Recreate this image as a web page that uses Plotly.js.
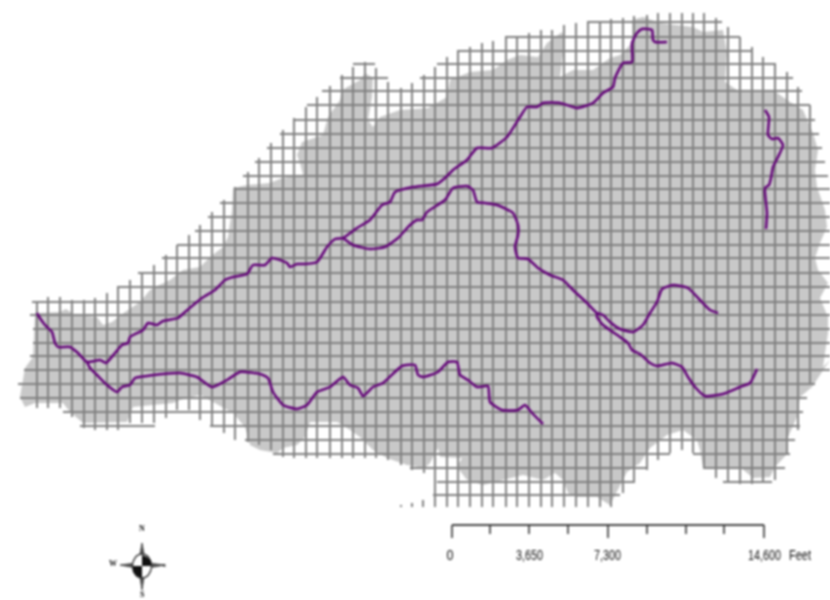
<!DOCTYPE html>
<html>
<head>
<meta charset="utf-8">
<script src="https://cdn.plot.ly/plotly-3.0.1.min.js"></script>
<style>html,body{margin:0;padding:0;background:#fff}#map{width:830px;height:600px;filter:blur(0.9px)}</style>
</head>
<body>
<div id="map"></div>
<script>
const basinX = [35,60,66,75,97,103,112,125,140,150,155,170,183,200,210,223,228,232,233,247,270,282,303,300,297,302,323,328,340,342,360,365,373,372,368,373,380,400,428,447,450,470,493,507,520,538,547,562,565,562,560,573,593,610,620,632,632,643,660,693,703,723,727,725,737,773,787,803,813,818,815,817,825,827,820,815,818,828,820,828,828,823,830,812,800,797,788,788,775,770,753,740,713,703,700,697,683,667,650,640,627,620,610,597,577,568,563,555,543,523,503,483,467,457,462,440,438,430,425,407,387,373,360,347,337,310,305,297,283,277,260,250,245,233,213,200,180,173,133,127,83,70,63,35,25,20,25,33];
const basinY = [313,312,309,315,317,325,322,312,302,290,287,280,270,267,257,247,237,210,188,185,183,178,175,163,155,142,135,117,100,90,80,73,78,97,120,127,117,110,108,97,80,72,70,60,55,57,43,32,40,60,77,70,70,58,55,43,20,17,23,27,32,30,53,82,90,90,100,110,133,150,170,187,210,227,243,258,270,283,298,317,333,367,360,387,397,417,437,453,467,477,478,467,467,467,450,440,430,435,448,463,472,485,505,497,497,493,480,473,480,475,480,485,480,467,458,457,448,463,468,465,458,450,437,428,422,422,437,445,448,453,450,445,427,413,402,395,400,403,407,422,423,412,403,403,407,397,368,357];

const columnX = [37,48,60,72,84,95,107,118,130,142,154,166,177,189,200,212,224,235,248,259,271,283,294,306,317,330,342,353,365,376,388,401,412,424,435,447,458,470,482,493,506,517,529,541,552,564,576,588,600,611,623,634,647,658,670,682,693,704,716,728,740,752,763,775,787,798,810];
const columnTop = [302,297,297,300,300,298,293,287,280,272,265,255,245,235,225,212,200,187,172,158,143,130,118,107,97,86,75,67,62,68,82,88,83,75,67,57,52,47,43,41,36,36,33,30,30,25,23,22,22,19,18,16,15,13,13,13,13,13,18,27,37,47,57,63,72,87,105];
const columnBottom = [408,408,408,417,428,430,430,430,423,423,423,418,410,410,420,425,433,440,442,445,450,457,458,458,458,458,458,458,458,458,460,465,470,473,507,507,507,507,507,507,507,507,507,507,507,507,507,507,507,507,493,482,470,460,453,450,453,468,478,483,484,484,482,480,455,430,385];

const rowY     = [22,37,51,64,64,78,78,91,105,120,134,148,162,176,189,203,217,231,245,258,273,287,302,315,329,343,356,370,384,398,412,426,426,440,454,454,468,468,482,482,495];
const rowLeft  = [587,507,457,353,437,340,420,322,307,293,280,267,255,243,235,220,208,195,177,162,138,117,32,30,33,33,30,24,18,20,63,80,210,245,273,693,410,703,437,723,433];
const rowRight = [722,740,752,375,775,388,793,802,810,815,819,822,825,828,830,830,830,830,830,830,830,830,830,830,830,830,830,830,815,807,803,155,800,795,670,790,647,785,635,772,620];

const stubX = [423,412,401];
const stubTop = [500,503,505];
const stubBottom = [507,507,507];

const mainX = [37,38,45,52,55,58,70,78,87,100,106,115,122,128,130,143,148,157,163,178,185,202,215,225,233,247,253,265,272,287,290,297,305,317,327,335,343,357,370,382,390,395,413,437,445,453,467,477,492,507,520,527,537,543,560,577,593,603,613,615,623,632,632,637,642,652,653,655,667];
const mainY = [313,315,325,332,343,347,347,353,362,360,363,353,345,343,337,330,323,325,321,318,312,298,290,280,277,274,265,265,258,263,267,264,264,262,247,239,238,228,220,205,202,192,187,184,178,170,160,148,148,137,117,107,107,103,103,108,103,93,87,78,63,62,43,33,29,30,40,42,42];

const lowerX = [343,353,370,385,398,410,417,422,427,445,453,467,473,477,485,497,513,518,518,515,518,528,538,550,563,573,587,597,603,610,620,633,643,650,657,662,673,688,700,710,718];
const lowerY = [238,245,249,247,238,225,220,220,212,200,188,186,190,202,203,205,213,225,235,247,258,259,268,275,280,290,303,313,315,322,329,332,325,313,302,289,285,288,300,310,313];

const forkX = [597,597,603,620,628,632,640,650,657,672,682,688,695,705,723,740,750,757];
const forkY = [313,317,325,337,343,350,354,363,366,363,367,377,387,396,394,387,383,369];

const eastX = [765,769,768,772,778,783,778,773,771,769,765,766,767,766];
const eastY = [110,117,135,139,138,145,157,167,178,185,188,203,213,229];

const southX = [87,90,97,107,117,122,130,135,147,163,180,197,212,227,240,260,268,273,283,297,307,317,330,343,350,358,363,373,383,402,415,418,423,438,448,457,460,468,477,488,490,502,518,525,532,543];
const southY = [362,368,375,385,392,387,385,378,376,374,373,377,387,380,372,374,378,392,405,409,405,392,387,377,385,388,396,387,383,366,365,375,377,372,362,362,375,380,387,386,402,410,410,405,413,424];

const scaleTicksX = [452,490,529,568,608,647,686,724,764];
const scaleTicksEnd = [538,534,534,534,538,534,534,534,538];
const scaleLabels = ['0','3,650','7,300','14,600','Feet'];
const scaleLabelX = [450,529,607,764,800];
const scaleLabelWidth = [7,27,27,33,22];

const compassSpikeX = [142,144,148,165,148,144,142,140,136,120,136,140,142];
const compassSpikeY = [543,554,563,565,568,577,590,577,568,565,563,554,543];
const compassDarkAX = [142,147,151,151,142];
const compassDarkAY = [555,557,561,566,566];
const compassDarkBX = [142,137,133,133,142];
const compassDarkBY = [578,576,572,566,566];
const compassLetters = ['N','W','E','S'];
const compassLetterX = [142,113,165,142];
const compassLetterY = [528,563,565,594];

function segments(a0, a1, b0, b1) {
  const p = [], q = [];
  a0.forEach((v, i) => { p.push(v, a1[i], null); q.push(b0[i], b1[i], null); });
  return [p, q];
}
const [vx, vy] = segments(columnX, columnX, columnTop, columnBottom);
const [hx, hy] = segments(rowLeft, rowRight, rowY, rowY);
const [sx, sy] = segments(stubX, stubX, stubTop, stubBottom);
const [tx, ty] = segments(scaleTicksX, scaleTicksX, scaleTicksX.map(() => 525), scaleTicksEnd);

const GRID = '#808080', RIVER = '#620078', INK = '#111';
function river(x, y) {
  return {x, y, type:'scatter', mode:'lines', hoverinfo:'skip', line:{color:RIVER, width:2.5, shape:'spline', smoothing:0.5, simplify:false}};
}
const traces = [
  {x:basinX, y:basinY, type:'scatter', mode:'lines', fill:'toself', fillcolor:'#c8c8c8', line:{width:0, color:'#c8c8c8'}, hoverinfo:'skip'},
  {x:vx.concat(sx), y:vy.concat(sy), type:'scatter', mode:'lines', line:{color:GRID, width:2}, hoverinfo:'skip', connectgaps:false},
  {x:hx, y:hy, type:'scatter', mode:'lines', line:{color:GRID, width:2}, hoverinfo:'skip', connectgaps:false},
  river(mainX, mainY), river(lowerX, lowerY), river(forkX, forkY), river(eastX, eastY), river(southX, southY),
  {x:[scaleTicksX[0], scaleTicksX[8]], y:[525,525], type:'scatter', mode:'lines', line:{color:'#444', width:2}, hoverinfo:'skip'},
  {x:tx, y:ty, type:'scatter', mode:'lines', line:{color:'#333', width:1.6}, hoverinfo:'skip'},
  {x:compassSpikeX, y:compassSpikeY, type:'scatter', mode:'lines', fill:'toself', fillcolor:'#555', line:{color:'#333', width:0.8}, hoverinfo:'skip'}
];

const annotations = scaleLabels.map((t, i) => ({
  text:t, x:scaleLabelX[i], y:555, xref:'x', yref:'y', showarrow:false,
  font:{family:'"Liberation Sans",sans-serif', size:14, color:INK}
})).concat(compassLetters.map((t, i) => ({
  text:'<b>'+t+'</b>', x:compassLetterX[i], y:compassLetterY[i], xref:'x', yref:'y', showarrow:false,
  font:{family:'"Liberation Serif",serif', size:t==='E'?5:8, color:'#111'}
})));

function polyPath(x, y) {
  return 'M' + x.map((v, i) => v + ' ' + y[i]).join(' L') + ' Z';
}
const shapes = [
  {type:'circle', xref:'x', yref:'y', x0:132.5, x1:151.5, y0:554, y1:578, line:{color:'#333', width:1.3}, fillcolor:'#fff', layer:'above'},
  {type:'path', xref:'x', yref:'y', path:polyPath(compassDarkAX, compassDarkAY), fillcolor:'#111', line:{width:0}, layer:'above'},
  {type:'path', xref:'x', yref:'y', path:polyPath(compassDarkBX, compassDarkBY), fillcolor:'#111', line:{width:0}, layer:'above'}
];

Plotly.newPlot('map', traces, {
  width:830, height:600, margin:{l:0,r:0,t:0,b:0}, showlegend:false,
  paper_bgcolor:'#fff', plot_bgcolor:'#fff',
  xaxis:{range:[0,830], visible:false, fixedrange:true},
  yaxis:{range:[600,0], visible:false, fixedrange:true},
  annotations, shapes
}, {displayModeBar:false, staticPlot:true}).then(() => {
  // The reference's scale labels are tall and narrow: squeeze the glyphs to the read widths.
  document.querySelectorAll('#map .annotation-text').forEach(el => {
    const i = scaleLabels.indexOf(el.textContent);
    if (i >= 0) {
      el.setAttribute('textLength', scaleLabelWidth[i]);
      el.setAttribute('lengthAdjust', 'spacingAndGlyphs');
    }
  });
});
</script>
</body>
</html>
